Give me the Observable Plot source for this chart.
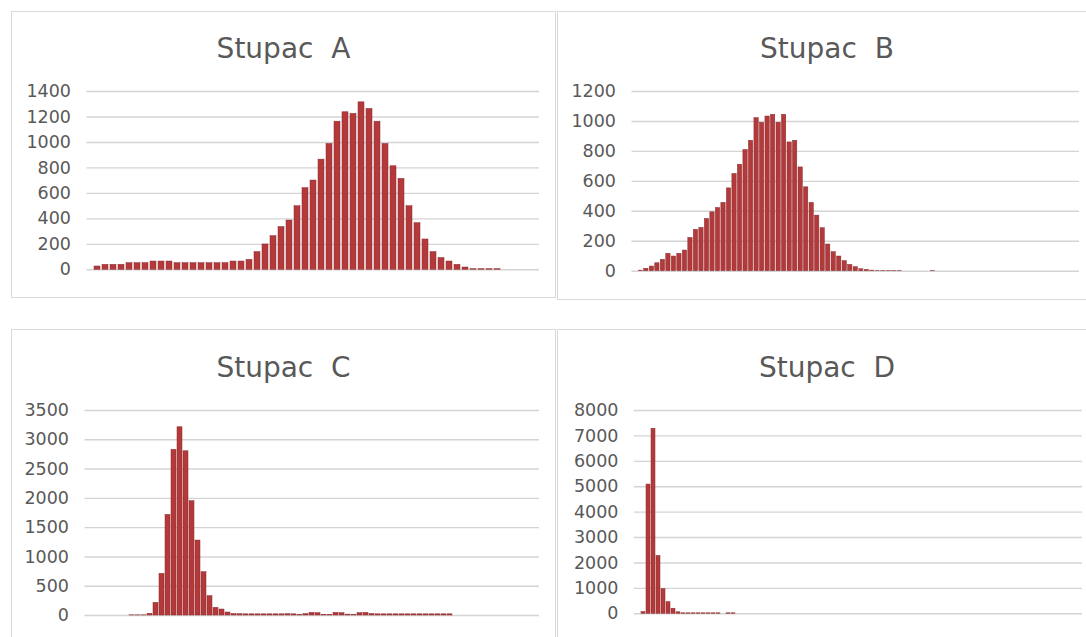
<!DOCTYPE html>
<html><head><meta charset="utf-8">
<script src="https://cdn.jsdelivr.net/npm/d3@7"></script>
<script src="https://cdn.jsdelivr.net/npm/@observablehq/plot@0.6"></script>
<style>
body{margin:0;background:#fff;overflow:hidden;}
#root{position:relative;width:1086px;height:637px;overflow:hidden;font-family:"DejaVu Sans",sans-serif;background:#fff;}
.panel{position:absolute;border:1px solid #d9d9d9;box-sizing:border-box;background:#fff;}
.title{position:absolute;text-align:center;font-size:28px;line-height:28px;color:#595959;white-space:pre;}
.chart{position:absolute;}
</style></head><body><div id="root"></div>
<script>
// ---- data ----
const titles = ["Stupac  A", "Stupac  B", "Stupac  C", "Stupac  D"];

const valuesA = [26,39,39,39,52,52,52,65,65,65, 52,52,52,52,52,52,52,65,65,78,
  139,199,264,335,387,499,641,701,865,988, 1163,1237,1224,1315,1263,1163,988,813,714,499,
  366,238,139,92,65,39,18,5,5,5, 5,0,0,0,0];
const valuesB = [0,4,16,31,53,76,116,98,116,138, 222,276,289,349,393,422,456,553,649,711,
  809,871,1022,991,1033,1044,991,1044,860,871, 693,560,456,371,287,178,127,98,67,42,
  27,13,9,4,2,2,2,2,2,0, 0,0,0,0,3,0,0,0,0,0, 0,0,0,0,0,0,0,0,0,0, 0,0,0,0,0,0,0,0,0,0, 0];
const valuesC = [0,0,0,0,0,0,3,3,3,28, 216,711,1718,2827,3214,2804,1951,1280,739,330,
  131,102,51,25,22,20,20,20,20,20, 20,20,22,20,8,25,45,40,12,8,
  45,40,15,8,40,45,25,20,20,20, 20,20,20,20,20,20,20,20,20,20,
  0,0,0,0,0,0,0,0,0,0, 0,0,0];
const valuesD = [65,5085,7281,2275,967,458,200,60,20,20, 20,20,20,20,20,20,0,20,20,0,
  0,0,0,0,0,0,0,0,0,0, 0,0,0,0,0,0,0,0,0,0, 0,0,0,0,0,0,0,0,0,0,
  0,0,0,0,0,0,0,0,0,0, 0,0,0,0,0,0,0,0,0,0, 0,0,0,0,0,0,0,0,0,0, 0,0,0,0,0,0,0];

const ticksA = [0,200,400,600,800,1000,1200,1400];
const ticksB = [0,200,400,600,800,1000,1200];
const ticksC = [0,500,1000,1500,2000,2500,3000,3500];
const ticksD = [0,1000,2000,3000,4000,5000,6000,7000,8000];

// ---- layout (page pixels) ----
const panels = [
  {values: valuesA, ticks: ticksA, title: titles[0], box: [11, 11, 545, 287], plot: [86.5, 539, 91, 269.3], titleTop: 35},
  {values: valuesB, ticks: ticksB, title: titles[1], box: [557, 11, 540, 289], plot: [631.5, 1079, 91, 270.7], titleTop: 35},
  {values: valuesC, ticks: ticksC, title: titles[2], box: [11, 329, 545, 330], plot: [84.5, 539, 410, 615], titleTop: 353.5},
  {values: valuesD, ticks: ticksD, title: titles[3], box: [557, 329, 540, 330], plot: [634, 1082, 410, 613.3], titleTop: 353.5}
];

const root = document.getElementById("root");
for (const p of panels) {
  const [bx, by, bw, bh] = p.box;
  const [x0, x1, y0, y1] = p.plot;
  const border = document.createElement("div");
  border.className = "panel";
  Object.assign(border.style, {left: bx + "px", top: by + "px", width: bw + "px", height: bh + "px"});
  root.appendChild(border);

  const t = document.createElement("div");
  t.className = "title";
  t.textContent = p.title;
  Object.assign(t.style, {left: bx + "px", width: bw + "px", top: p.titleTop + "px"});
  root.appendChild(t);

  const data = p.values.map((v, i) => ({cat: i + 1, value: v}));
  const chart = Plot.plot({
    width: bw, height: bh,
    marginLeft: x0 - bx, marginRight: bx + bw - x1,
    marginTop: y0 - by, marginBottom: by + bh - y1,
    style: {background: "transparent", color: "#595959", fontFamily: "'DejaVu Sans', sans-serif", fontSize: "17px", overflow: "visible"},
    x: {type: "band", domain: data.map(d => d.cat), padding: 0.22, axis: null},
    y: {domain: [0, p.ticks[p.ticks.length - 1]], axis: null},
    marks: [
      Plot.gridY(p.ticks, {stroke: "#d4d4d4", strokeOpacity: 1, strokeWidth: 1.4}),
      Plot.axisY(p.ticks, {tickSize: 0, tickPadding: 16, label: null, fill: "#595959", fontSize: 17.5, tickFormat: d => String(d)}),
      Plot.barY(data.filter(d => d.value > 0), {x: "cat", y: "value", fill: "#b3393b", stroke: "#8a2c2e", strokeWidth: 0.5})
    ]
  });
  chart.classList.add("chart");
  Object.assign(chart.style, {left: bx + "px", top: by + "px"});
  root.appendChild(chart);
}
</script>
</body></html>
